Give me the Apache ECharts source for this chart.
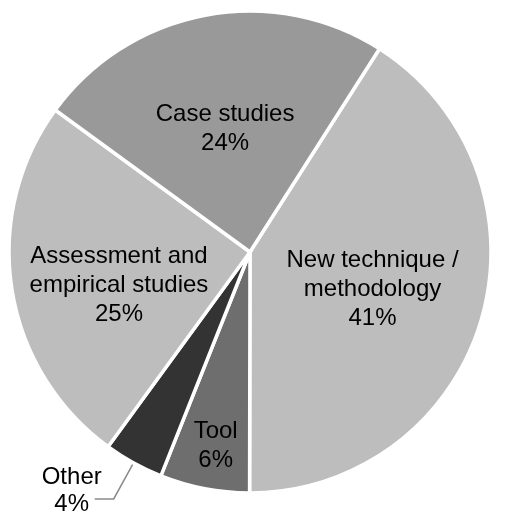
<!DOCTYPE html>
<html>
<head>
<meta charset="utf-8">
<title>Pie</title>
<script src="https://cdn.jsdelivr.net/npm/echarts@6/dist/echarts.min.js"></script>
<style>
  html, body { margin: 0; padding: 0; background: #fff; }
  #main { width: 506px; height: 528px; }
</style>
</head>
<body>
<div id="main"></div>
<script>
// categories and shares (%), clockwise from the upper right
var categories = ['New technique /\nmethodology', 'Tool', 'Other', 'Assessment and\nempirical studies', 'Case studies'];
var shares = [41, 6, 4, 25, 24];
var colors = ['#bdbdbd', '#6e6e6e', '#333333', '#bdbdbd', '#999999'];

// nudge the inside labels to where the original had them
var labelShift = [[4, 3], [-11, 73], [0, 0], [-9, 14], [-2, -2]];

var myChart = echarts.init(document.getElementById('main'));

var items = [];
for (var i = 0; i < categories.length; i++) {
  var it = { name: categories[i], value: shares[i], itemStyle: { color: colors[i] } };
  if (categories[i] === 'Other') {
    // small slice: label outside with a grey leader line
    it.label = {
      position: 'outside',
      formatter: '{t|{b}}\n{t|{c}%}',
      distanceToLabelLine: -7,
      padding: [0, 0, 17, 0],
      rich: { t: { width: 60, align: 'center', fontSize: 24, lineHeight: 27, color: '#000' } }
    };
    it.labelLine = { show: true, length: 41, length2: 19, lineStyle: { color: '#8a8a8a', width: 1.5 } };
  }
  items.push(it);
}

myChart.setOption({
  animation: false,
  series: [{
    type: 'pie',
    center: [250, 252],
    radius: [0, 241],
    startAngle: 57.5,
    clockwise: true,
    itemStyle: { borderColor: '#fff', borderWidth: 3.5 },
    label: {
      show: true,
      position: 'inside',
      formatter: '{b}\n{c}%',
      color: '#000',
      fontFamily: 'Liberation Sans, Arial, sans-serif',
      fontSize: 24,
      lineHeight: 29,
      align: 'center'
    },
    labelLine: { show: false },
    labelLayout: function (p) {
      if (categories[p.dataIndex] === 'Other') return {};
      var s = labelShift[p.dataIndex];
      return { dx: s[0], dy: s[1] };
    },
    emphasis: { disabled: true },
    data: items
  }]
});
</script>
</body>
</html>
